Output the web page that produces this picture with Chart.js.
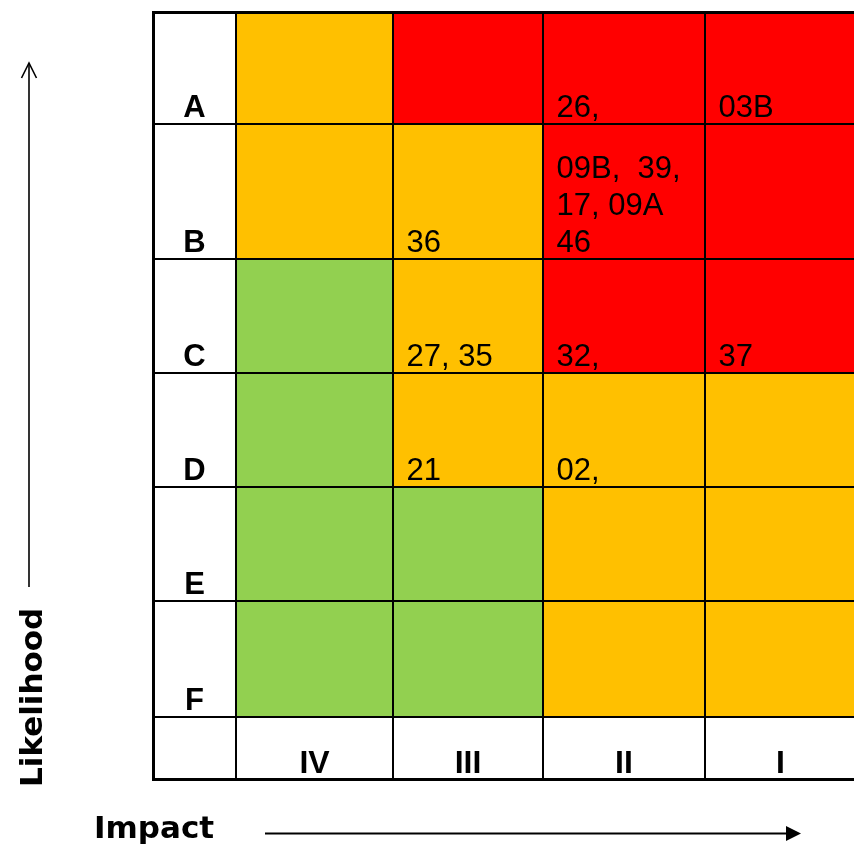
<!DOCTYPE html>
<html>
<head>
<meta charset="utf-8">
<title>Risk matrix</title>
<script src="https://cdn.jsdelivr.net/npm/chart.js@4.4.1/dist/chart.umd.min.js"></script>
<style>
  html, body { margin: 0; padding: 0; background: #fff; overflow: hidden; }
  #wrap { width: 854px; height: 848px; overflow: hidden; }
  #wrap canvas { display: block; }
</style>
</head>
<body>
<div id="wrap"><canvas id="risk-matrix" width="860" height="848"></canvas></div>
<script>
// ───── Data ────────────────────────────────────────────────────────────────
const impactLevels = ['IV', 'III', 'II', 'I'];
const likelihoodLevels = ['A', 'B', 'C', 'D', 'E', 'F'];

// Rating per cell, rows A..F, columns IV..I (H = high, M = medium, L = low)
const riskRatings = [
  ['M', 'H', 'H', 'H'],
  ['M', 'M', 'H', 'H'],
  ['L', 'M', 'H', 'H'],
  ['L', 'M', 'M', 'M'],
  ['L', 'L', 'M', 'M'],
  ['L', 'L', 'M', 'M'],
];

// Risk ids listed in each cell
const riskItems = [
  ['', '', '26,', '03B'],
  ['', '36', '09B,  39,\n17, 09A\n46', ''],
  ['', '27, 35', '32,', '37'],
  ['', '21', '02,', ''],
  ['', '', '', ''],
  ['', '', '', ''],
];

// ───── Layout / style ──────────────────────────────────────────────────────
// relative sizes of the grid: label column + 4 impact columns,
// 6 likelihood rows + the impact label row
const COL_SIZES = [83, 157, 150, 162, 151];
const ROW_SIZES = [112, 135, 114, 114, 114, 116, 62];
const RATING_COLORS = { H: '#FF0000', M: '#FFC000', L: '#92D050' };
const CELL_FONT = '31px "Liberation Sans", Arial, sans-serif';
const LABEL_FONT = 'bold 31px "Liberation Sans", Arial, sans-serif';
const TITLE_FONT = 'bold 31px "DejaVu Sans", sans-serif';

function cumulative(sizes) {
  const out = [0];
  sizes.forEach((s) => out.push(out[out.length - 1] + s));
  return out;
}

const colEdges = cumulative(COL_SIZES);
const rowEdges = cumulative(ROW_SIZES);

// Fill cells and write their texts, below the grid lines (grid uses z: 1).
const riskCells = {
  id: 'riskCells',
  beforeDatasetsDraw(chart) {
    const { ctx } = chart;
    const { x, y } = chart.scales;
    ctx.save();
    ctx.textBaseline = 'alphabetic';

    likelihoodLevels.forEach((level, r) => {
      const top = y.getPixelForValue(rowEdges[r]);
      const bottom = y.getPixelForValue(rowEdges[r + 1]);

      impactLevels.forEach((_, c) => {
        const left = x.getPixelForValue(colEdges[c + 1]);
        const right = x.getPixelForValue(colEdges[c + 2]);
        ctx.fillStyle = RATING_COLORS[riskRatings[r][c]];
        ctx.fillRect(left, top, right - left, bottom - top);

        const text = riskItems[r][c];
        if (!text) return;
        const lines = text.split('\n');
        ctx.fillStyle = '#000';
        ctx.font = CELL_FONT;
        ctx.textAlign = 'left';
        lines.forEach((line, i) => {
          ctx.fillText(line, left + 13.5, bottom - 7.5 - (lines.length - 1 - i) * 36.7);
        });
      });

      // likelihood letter in the first column
      const mid = (x.getPixelForValue(colEdges[0]) + x.getPixelForValue(colEdges[1])) / 2;
      ctx.fillStyle = '#000';
      ctx.font = LABEL_FONT;
      ctx.textAlign = 'center';
      ctx.fillText(level, mid, bottom - 7.5);
    });

    // impact numerals in the bottom row
    const base = y.getPixelForValue(rowEdges[rowEdges.length - 1]) - 5.7;
    ctx.font = 'bold 32px "Liberation Sans", Arial, sans-serif';
    ctx.textAlign = 'center';
    impactLevels.forEach((level, c) => {
      const mid = (x.getPixelForValue(colEdges[c + 1]) + x.getPixelForValue(colEdges[c + 2])) / 2;
      ctx.fillText(level, mid, base);
    });
    ctx.restore();
  },
};

// Axis arrows and the two axis titles outside the grid.
const axisArrows = {
  id: 'axisArrows',
  afterDraw(chart) {
    const { ctx, chartArea: a } = chart;
    ctx.save();
    ctx.strokeStyle = '#000';
    ctx.fillStyle = '#000';

    // Impact arrow →
    const hy = a.bottom + 54.5;
    ctx.lineWidth = 2;
    ctx.beginPath();
    ctx.moveTo(a.left + 112, hy);
    ctx.lineTo(a.left + 635, hy);
    ctx.stroke();
    ctx.beginPath();
    ctx.moveTo(a.left + 633, hy - 7.5);
    ctx.lineTo(a.left + 648, hy);
    ctx.lineTo(a.left + 633, hy + 7.5);
    ctx.closePath();
    ctx.fill();

    // Likelihood arrow ↑
    ctx.lineWidth = 1.6;
    ctx.beginPath();
    ctx.moveTo(29, 587);
    ctx.lineTo(29, 63);
    ctx.stroke();
    ctx.beginPath();
    ctx.moveTo(21.5, 78);
    ctx.lineTo(29, 63);
    ctx.lineTo(36.5, 78);
    ctx.stroke();

    ctx.font = TITLE_FONT;
    ctx.textAlign = 'left';
    ctx.textBaseline = 'alphabetic';
    ctx.fillText('Impact', 94, 838);
    ctx.translate(42, 787);
    ctx.rotate(-Math.PI / 2);
    ctx.fillText('Likelihood', 0, 0);
    ctx.restore();
  },
};

function edgeWidth(edges) {
  return (c) => (c.index === 0 || c.index === edges.length - 1 ? 3 : 2);
}

new Chart(document.getElementById('risk-matrix'), {
  type: 'scatter',
  data: { datasets: [] },
  options: {
    responsive: false,
    animation: false,
    layout: { padding: { left: 153, right: 4, top: 12, bottom: 69 } },
    plugins: {
      legend: { display: false },
      tooltip: { enabled: false },
    },
    scales: {
      x: {
        type: 'linear',
        min: 0,
        max: colEdges[colEdges.length - 1],
        afterBuildTicks: (scale) => {
          scale.ticks = colEdges.map((v) => ({ value: v }));
        },
        ticks: { display: false },
        grid: { color: '#000', lineWidth: edgeWidth(colEdges), drawTicks: false, z: 1 },
        border: { color: '#000', width: 3, z: 1 },
      },
      y: {
        type: 'linear',
        reverse: true,
        min: 0,
        max: rowEdges[rowEdges.length - 1],
        afterBuildTicks: (scale) => {
          scale.ticks = rowEdges.map((v) => ({ value: v }));
        },
        ticks: { display: false },
        grid: { color: '#000', lineWidth: edgeWidth(rowEdges), drawTicks: false, z: 1 },
        border: { color: '#000', width: 3, z: 1 },
      },
    },
  },
  plugins: [riskCells, axisArrows],
});
</script>
</body>
</html>
